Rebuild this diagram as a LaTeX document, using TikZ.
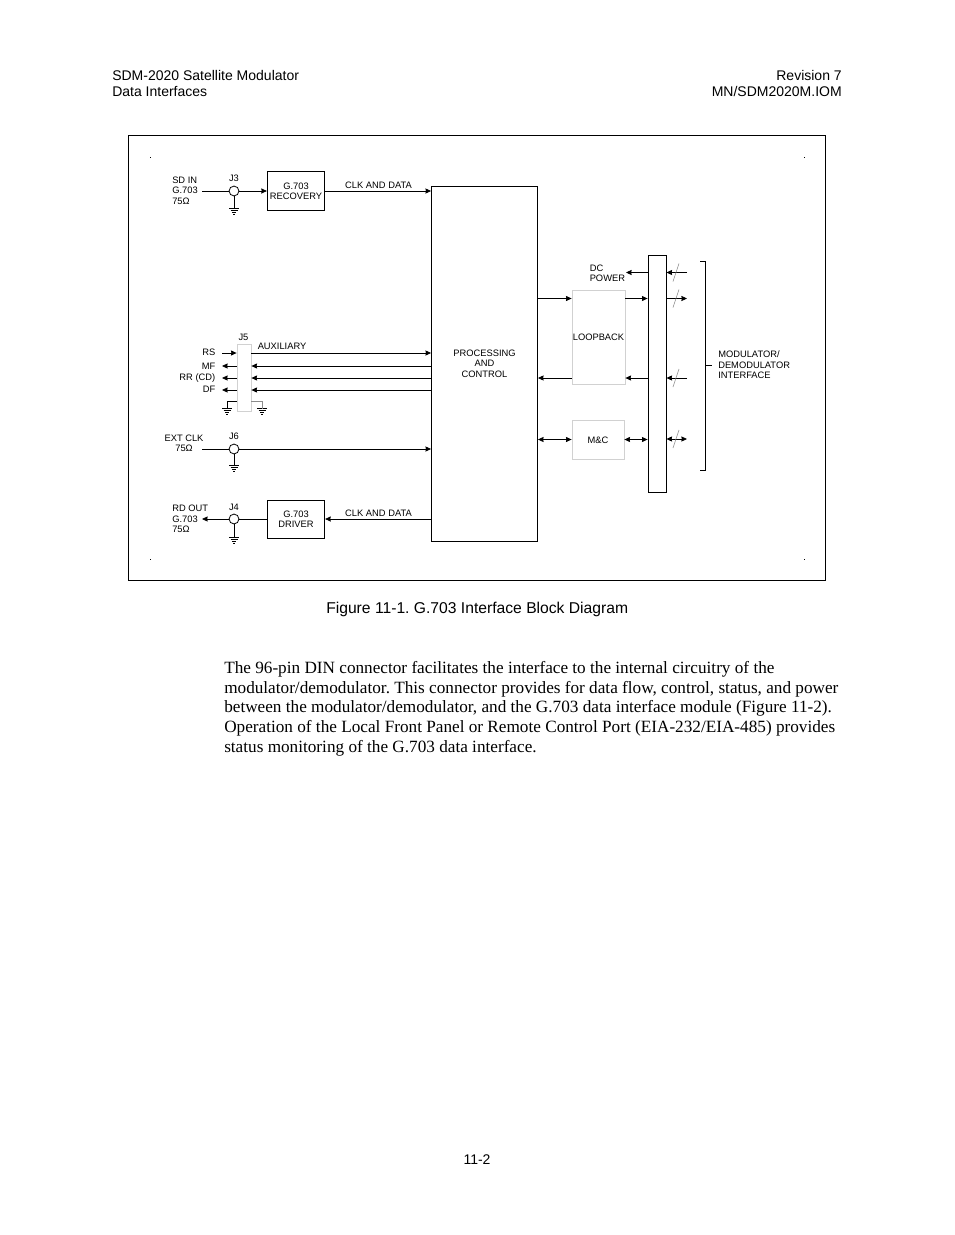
\documentclass[tikz,border=0pt]{standalone}
\usepackage{fontspec}
\setmainfont{Liberation Sans}
\newfontfamily\bodyserif{Liberation Serif}
\usetikzlibrary{arrows.meta}
\frenchspacing
\tikzset{
  x=0.75pt,y=-0.75pt,
  wire/.style={line width=0.6pt,black},
  tipto/.style={-{Stealth[length=4.2pt,width=3.8pt,inset=0.3pt]}},
  tipboth/.style={{Stealth[length=4.2pt,width=3.8pt,inset=0.3pt]}-{Stealth[length=4.2pt,width=3.8pt,inset=0.3pt]}},
  blockbox/.style={draw=black,line width=0.65pt,inner sep=0pt,align=center,font=\dgfont},
  palebox/.style={draw=black!18,line width=0.6pt,inner sep=0pt,align=center,font=\dgfont},
  conn/.style={circle,draw=black,line width=0.6pt,minimum size=7.4pt,inner sep=0pt},
  lab/.style={inner sep=0pt,font=\dgfont,align=left,anchor=west},
  labr/.style={inner sep=0pt,font=\dgfont,align=right,anchor=east},
  labc/.style={inner sep=0pt,font=\dgfont,align=center},
  head/.style={inner sep=0pt,font=\headfont},
  para/.style={inner sep=0pt,anchor=base west,font=\paraf},
  slashmark/.style={line width=0.45pt,black!45},
  gndsym/.pic={
    \draw[line width=0.7pt] (-5,0) -- (5,0);
    \draw[line width=0.7pt] (-3.5,2) -- (3.5,2);
    \draw[line width=0.7pt] (-2.2,4) -- (2.2,4);
    \draw[line width=0.7pt] (-1,6) -- (1,6);
  }
}
\newcommand\dgfont{\fontsize{7}{7.8}\selectfont}
\newcommand\headfont{\fontsize{10.5}{12}\selectfont}
\newcommand\paraf{\bodyserif\fontsize{12.9}{15}\selectfont}
\begin{document}
\begin{tikzpicture}
\useasboundingbox[fill=white] (0,0) rectangle (954,1235);

% page header
\node[head,anchor=west] (h1) at (112,75) {SDM-2020 Satellite Modulator};
\node[head,anchor=west] (h2) at (112,91.5) {Data Interfaces};
\node[head,anchor=east] (h3) at (842,75) {Revision 7};
\node[head,anchor=east] (h4) at (842,91) {MN/SDM2020M.IOM};

% frame
\node[draw=black,line width=0.65pt,minimum width=523.25pt,minimum height=333.75pt,inner sep=0pt] (frame) at (477,357.5) {};
\foreach \n/\a/\b in {d1/150/157,d2/804/157,d3/150/559,d4/804/559}
  \fill (\a-0.5,\b-0.5) rectangle (\a+0.5,\b+0.5);

% blocks
\node[blockbox,minimum width=43pt,minimum height=29pt] (rec) at (296,191) {G.703\\RECOVERY};
\node[blockbox,minimum width=43pt,minimum height=28.5pt] (drv) at (296,519) {G.703\\DRIVER};
\node[blockbox,minimum width=79.5pt,minimum height=266.25pt] (proc) at (484.5,363.75) {PROCESSING\\AND\\CONTROL};
\node[palebox,minimum width=39.75pt,minimum height=70.5pt] (loop) at (598.5,337.5) {LOOPBACK};
\node[palebox,minimum width=39pt,minimum height=29.25pt] (mc) at (598,440) {M\&C};
\node[blockbox,minimum width=13.5pt,minimum height=177.75pt] (bus) at (657,373.5) {};
\node[draw=black!18,line width=0.6pt,minimum width=10.5pt,minimum height=50.25pt,inner sep=0pt] (j5) at (244,377.5) {};

% connectors
\node[conn] (j3) at (234,191) {};
\node[conn] (j6) at (234,449) {};
\node[conn] (j4) at (234,519) {};

% ground positions
\coordinate (g3) at (234,208.5);
\coordinate (g6) at (234,465.5);
\coordinate (g4) at (234,537);
\coordinate (g5a) at (227,408.5);
\coordinate (g5b) at (262,408.5);
\pic at (g3) {gndsym};
\pic at (g6) {gndsym};
\pic at (g4) {gndsym};
\pic at (g5a) {gndsym};
\pic at (g5b) {gndsym};
\draw[wire] (j3) -- (g3);
\draw[wire] (j6) -- (g6);
\draw[wire] (j4) -- (g4);
\draw[wire] (j5.west |- 0,401) -| (g5a);
\draw[line width=0.5pt,black!45] (j5.east |- 0,401) -| (g5b);

% signal ends
\coordinate (sdin) at (202,191);
\coordinate (extin) at (202,449);
\coordinate (rdout) at (202,519);
\coordinate (rs) at (222,353);
\coordinate (mf) at (222,366);
\coordinate (rr) at (222,378);
\coordinate (df) at (222,390);

\draw[wire] (sdin) -- (j3);
\draw[wire,tipto] (j3) -- (j3 -| rec.west);
\draw[wire,tipto] (rec.east |- 0,191) -- (proc.west |- 0,191);
\draw[wire,tipto] (j6) -- (proc.west |- 0,449);
\draw[wire] (extin) -- (j6);
\draw[wire,tipto] (j4) -- (rdout);
\draw[wire] (drv.west |- j4) -- (j4);
\draw[wire,tipto] (proc.west |- 0,519) -- (drv.east |- 0,519);

\draw[wire,tipto] (rs) -- (rs -| j5.west);
\draw[wire,tipto] (mf -| j5.west) -- (mf);
\draw[wire,tipto] (rr -| j5.west) -- (rr);
\draw[wire,tipto] (df -| j5.west) -- (df);
\draw[wire,tipto] (rs -| j5.east) -- (rs -| proc.west);
\draw[wire,tipto] (mf -| proc.west) -- (mf -| j5.east);
\draw[wire,tipto] (rr -| proc.west) -- (rr -| j5.east);
\draw[wire,tipto] (df -| proc.west) -- (df -| j5.east);

% right-hand section
\coordinate (y1) at (0,272.5);
\coordinate (y2) at (0,298.5);
\coordinate (y3) at (0,378);
\coordinate (y4) at (0,439.5);
\coordinate (dcend) at (626,272.5);
\draw[wire,tipto] (proc.east |- y2) -- (loop.west |- y2);
\draw[wire,tipto] (loop.east |- y2) -- (bus.west |- y2);
\draw[wire,tipto] (loop.west |- y3) -- (proc.east |- y3);
\draw[wire,tipto] (bus.west |- y3) -- (loop.east |- y3);
\draw[wire,tipboth] (proc.east |- y4) -- (mc.west |- y4);
\draw[wire,tipboth] (mc.east |- y4) -- (bus.west |- y4);
\draw[wire,tipto] (bus.west |- y1) -- (dcend);

\coordinate (r1) at (687,272.5);
\coordinate (r2) at (687,298.5);
\coordinate (r3) at (687,378);
\coordinate (r4) at (687,439);
\draw[wire,tipto] (r1) -- (r1 -| bus.east);
\draw[wire,tipto] (r2 -| bus.east) -- (r2);
\draw[wire,tipto] (r3) -- (r3 -| bus.east);
\draw[wire,tipboth] (r4 -| bus.east) -- (r4);
\foreach \c in {r1,r2,r3,r4}
  \draw[slashmark] ([shift={(-14,9)}]\c) -- ([shift={(-8,-9)}]\c);

% bracket
\coordinate (brt) at (700,261);
\coordinate (brb) at (700,470);
\coordinate (brm) at (712,365);
\draw[wire] (brt) -- ++(5.5,0) -- (705.5,470) -- (brb);
\draw[wire] (705.5,365) -- (brm);

% diagram labels
\node[lab] (l1) at (172,190.5) {SD IN\\G.703\\75Ω};
\node[labc] (l2) at (234,178) {J3};
\node[labc] (l3) at (378.5,185) {CLK AND DATA};
\node[labc] (l4) at (243.5,337) {J5};
\node[lab] (l5) at (257.5,346.5) {AUXILIARY};
\node[labr] (l6) at (215.5,352) {RS};
\node[labr] (l7) at (215.5,366) {MF};
\node[labr] (l8) at (215.5,378) {RR (CD)};
\node[labr] (l9) at (215.5,389) {DF};
\node[labc] (l10) at (184,443) {EXT CLK\\75Ω};
\node[labc] (l11) at (234,436) {J6};
\node[labc] (l12) at (234,507) {J4};
\node[lab] (l13) at (172,519) {RD OUT\\G.703\\75Ω};
\node[labc] (l14) at (378.5,513.5) {CLK AND DATA};
\node[lab] (l15) at (589.5,273) {DC\\POWER};
\node[lab] (l16) at (718,365) {MODULATOR/\\DEMODULATOR\\INTERFACE};

% caption, text, page number
\node[head,anchor=west,font=\fontsize{11.75}{13}\selectfont] (cap) at (326,609.5) {Figure 11-1. G.703 Interface Block Diagram};
\node[para] (p1) at (224,673) {The 96-pin DIN connector facilitates the interface to the internal circuitry of the};
\node[para] (p2) at (224,693) {modulator/demodulator. This connector provides for data flow, control, status, and power};
\node[para] (p3) at (224,712.5) {between the modulator/demodulator, and the G.703 data interface module (Figure 11-2).};
\node[para] (p4) at (224,732) {Operation of the Local Front Panel or Remote Control Port (EIA-232/EIA-485) provides};
\node[para] (p5) at (224,752) {status monitoring of the G.703 data interface.};
\node[head] (pg) at (477,1160) {11-2};
\end{tikzpicture}
\end{document}
